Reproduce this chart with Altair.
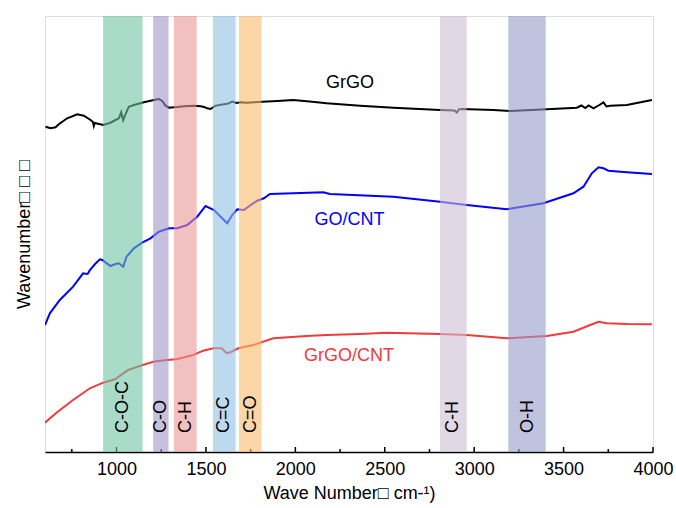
import altair as alt
import pandas as pd

# ---- data ----
grgo_wn = [603, 631, 659, 677, 724, 780, 817, 855, 868, 873, 878, 925, 966, 994, 1013, 1026, 1037, 1050, 1069,
           1097, 1153, 1209, 1237, 1255, 1274, 1293, 1339, 1380, 1433, 1470, 1490, 1507, 1526, 1554, 1601, 1625,
           1647, 1670, 1694, 1730, 1768, 1815, 1900, 1988, 2080, 2175, 2362, 2548, 2809, 2890, 2903, 2915, 2931,
           3108, 3201, 3406, 3574, 3600, 3621, 3640, 3667, 3700, 3723, 3740, 3761, 3854, 3994]
grgo_y = [325.3, 323.7, 324.7, 327.7, 333.7, 337.7, 336.3, 332, 330, 326, 329, 327, 329.3, 332, 333.7, 339.7, 332,
          337.7, 345.3, 347, 349.7, 352, 353, 351, 346.3, 344.3, 345, 345.8, 346.3, 345.7, 345, 343.7, 343, 346.3,
          347.7, 348.5, 350.5, 349, 349.7, 349.2, 349.7, 350.3, 351, 352, 350.5, 348.7, 346.3, 344.3, 342, 341.5,
          339.5, 342.5, 343, 342, 341, 342.7, 344.3, 346.5, 344, 346.5, 343.7, 347, 349.7, 345.5, 346.3, 347, 352]

gocnt_wn = [600, 627, 683, 757, 813, 835, 841, 851, 880, 907, 920, 966, 994, 1013, 1037, 1056, 1097, 1143, 1190,
            1237, 1265, 1293, 1339, 1395, 1451, 1498, 1545, 1582, 1619, 1647, 1675, 1713, 1750, 1787, 1824, 1858,
            1988, 2156, 2194, 2548, 2809, 2958, 3182, 3387, 3555, 3611, 3658, 3695, 3723, 3751, 3854, 3994]
gocnt_y = [127, 138.7, 152, 165.3, 178.7, 178, 178.7, 182, 188, 192.7, 192, 186, 188, 188.7, 185.3, 195.3, 203.7,
           209.3, 213.7, 220.3, 222, 223.7, 223.7, 227, 235.3, 246, 242, 235.3, 228.7, 237, 242.7, 242, 247, 251.3,
           253.7, 258, 258.7, 259.7, 258, 255.3, 250.3, 247, 242.7, 248.7, 258.7, 265.3, 278.7, 284.7, 283.7, 281.3,
           279.7, 278]

grgocnt_wn = [600, 664, 757, 851, 925, 991, 1065, 1130, 1205, 1280, 1336, 1429, 1485, 1541, 1588, 1616, 1644, 1681,
              1765, 1877, 2063, 2175, 2362, 2511, 2809, 2958, 3182, 3406, 3555, 3649, 3695, 3742, 3854, 3994]
grgocnt_y = [29.3, 39.3, 52, 63.7, 69.3, 72.7, 82, 86, 90.3, 92, 92.7, 97, 101.3, 103.7, 103.7, 98.7, 100.3, 103.7,
             107, 113.7, 116, 117, 118, 119.3, 118, 117, 113.7, 116, 120.3, 127, 130.3, 128.7, 128, 127.7]

series_names = ["GrGO", "GO/CNT", "GrGO/CNT"]
series_colors = ["#000000", "#0000FF", "#EF3B3B"]

band_start = [925, 1205, 1321, 1539, 1685, 2809, 3191]
band_end = [1146, 1291, 1448, 1666, 1811, 2958, 3400]
band_label_x = [1034, 1247, 1387, 1601, 1752, 2884, 3302]
band_labels = ["C-O-C", "C-O", "C-H", "C=C", "C=O", "C-H", "O-H"]
band_colors = ["#6EC3A3", "#9E96C8", "#E99693", "#91C0E3", "#FCBB6E", "#CFBED4", "#969BC8"]

curve_label_x = [2306, 2303, 2300]
curve_label_y = [369, 232, 96]

major_ticks = [1000, 1500, 2000, 2500, 3000, 3500, 4000]
minor_ticks = [750, 1250, 1750, 2250, 2750, 3250, 3750]

FONT = "Liberation Sans"
W, H = 608, 436

# ---- tables ----
rows = []
for name, xs, ys in zip(series_names, [grgo_wn, gocnt_wn, grgocnt_wn], [grgo_y, gocnt_y, grgocnt_y]):
    for a, b in zip(xs, ys):
        rows.append({"wn": a, "y": b, "series": name})
lines_df = pd.DataFrame(rows)
bands_df = pd.DataFrame({"start": band_start, "end": band_end, "lx": band_label_x,
                         "label": band_labels, "color": band_colors})
clabels_df = pd.DataFrame({"x": curve_label_x, "y": curve_label_y, "label": series_names, "color": series_colors})
major_df = pd.DataFrame({"t": major_ticks})
minor_df = pd.DataFrame({"t": minor_ticks})

xscale = alt.Scale(domain=[600, 4000], nice=False, zero=False)
yscale = alt.Scale(domain=[0, H], nice=False, zero=True)

xaxis = alt.Axis(values=major_ticks, format="d", ticks=False, grid=False, labelFont=FONT, labelFontSize=18,
                 labelColor="black", labelPadding=8, title="Wave Number\u25a1 cm-\u00b9)",
                 titleFont=FONT, titleFontSize=18, titleFontWeight="normal", titleColor="black",
                 titlePadding=6, domainColor="black", domainWidth=1.5, labelFlush=False)
yaxis = alt.Axis(labels=False, ticks=False, grid=False, domain=False, title="Wavenumber\u25a1 \u25a1 \u25a1",
                 titleFont=FONT, titleFontSize=18, titleFontWeight="normal", titleColor="black",
                 titlePadding=12)

lines = alt.Chart(lines_df).mark_line(strokeWidth=2, clip=True).encode(
    x=alt.X("wn:Q", scale=xscale, axis=xaxis),
    y=alt.Y("y:Q", scale=yscale, axis=yaxis),
    color=alt.Color("series:N", scale=alt.Scale(domain=series_names, range=series_colors), legend=None),
    detail="series:N",
)

major = alt.Chart(major_df).mark_rule(color="black", strokeWidth=1.5).encode(
    x=alt.X("t:Q", scale=xscale), y=alt.value(H), y2=alt.value(H - 5))
minor = alt.Chart(minor_df).mark_rule(color="black", strokeWidth=1.5).encode(
    x=alt.X("t:Q", scale=xscale), y=alt.value(H), y2=alt.value(H - 3))

bands = alt.Chart(bands_df).mark_rect(opacity=0.6).encode(
    x=alt.X("start:Q", scale=xscale), x2="end:Q",
    y=alt.value(0), y2=alt.value(H),
    color=alt.Color("color:N", scale=None),
)

band_text = alt.Chart(bands_df).mark_text(angle=270, align="left", baseline="middle", font=FONT,
                                          fontSize=18, color="black").encode(
    x=alt.X("lx:Q", scale=xscale), y=alt.value(H - 19), text="label:N")

curve_text = alt.Chart(clabels_df).mark_text(align="center", baseline="middle", font=FONT, fontSize=18).encode(
    x=alt.X("x:Q", scale=xscale), y=alt.Y("y:Q", scale=yscale), text="label:N",
    color=alt.Color("color:N", scale=None))

chart = alt.layer(lines, major, minor, bands, band_text, curve_text).properties(
    width=W, height=H,
    autosize=alt.AutoSizeParams(type="none"),
    padding={"left": 45, "top": 16, "right": 23, "bottom": 56},
).configure_view(stroke="black", strokeWidth=1.5).configure(background="white")

chart.save("out.html", embed_options={"renderer": "svg", "actions": False})
